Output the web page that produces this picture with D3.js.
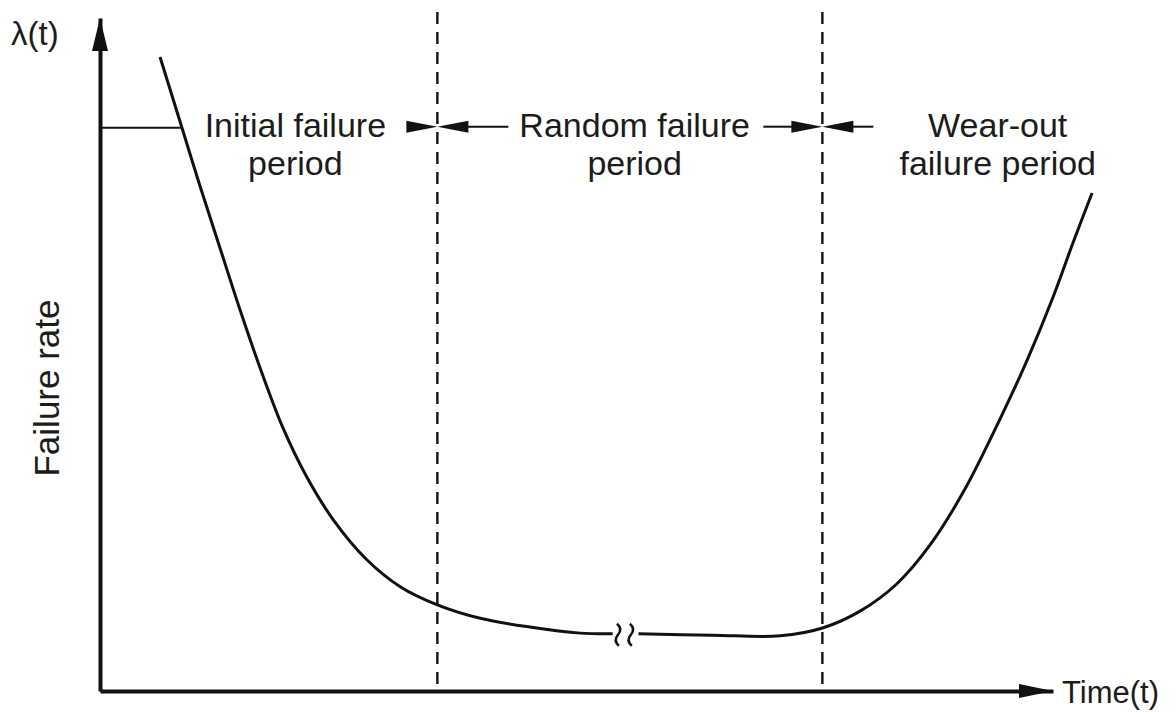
<!DOCTYPE html>
<html>
<head>
<meta charset="utf-8">
<script src="https://cdn.jsdelivr.net/npm/d3@7"></script>
<style>
  html, body { margin: 0; padding: 0; background: #fff; }
  svg { display: block; font-family: "Liberation Sans", Arial, sans-serif; }
</style>
</head>
<body>
<svg id="canvas" width="1176" height="717"></svg>
<script>
// bathtub curve (time 0..100, rate 0..100)
const EARLY_T = [6.3, 8.6, 10.5, 12.6, 14.7, 16.8, 19.2, 21.7, 24.5, 28.0, 31.5, 35.4, 39.9, 45.1, 50.4, 53.8];
const EARLY_R = [94.2, 83.7, 75.0, 65.8, 56.6, 48.0, 39.1, 31.8, 25.4, 19.5, 15.5, 12.8, 10.8, 9.5, 8.6, 8.5];
const LATE_T = [56.5, 64.3, 71.4, 75.9, 79.8, 83.6, 87.1, 90.6, 94.4, 97.3, 100.0, 102.1, 104.1];
const LATE_R = [8.5, 8.3, 8.2, 9.4, 11.9, 15.9, 21.7, 29.6, 40.3, 49.2, 58.5, 66.6, 74.0];

const BOUNDS = [35.4, 75.8];
const BREAKS = [54.35, 55.7];
const LEVEL = 83.7;
const LEVEL_END = 8.6;

const PERIODS = [["Initial failure", "period"], ["Random failure", "period"], ["Wear-out", "failure period"]];
const PERIOD_AT = [20.5, 56.1, 94.2];

const INK = "#111";

const svg = d3.select("#canvas");

const scaleX = d3.scaleLinear()
    .domain([0, 100])
    .range([100, 1053]);

const scaleY = d3.scaleLinear()
    .domain([0, 100])
    .range([691, 18]);

// axes without ticks, arrow heads added after
const xAxis = svg.append("g")
    .attr("transform", `translate(0,${scaleY(0)})`)
    .call(d3.axisBottom(scaleX).tickValues([]).tickSizeOuter(0));

const yAxis = svg.append("g")
    .attr("transform", `translate(${scaleX(0)},0)`)
    .call(d3.axisLeft(scaleY).tickValues([]).tickSizeOuter(0));

[xAxis, yAxis].forEach(a => a.select(".domain")
    .attr("stroke", INK)
    .attr("stroke-width", 4));

const x0 = scaleX(0), y0 = scaleY(0);
const xEnd = scaleX(100), yEnd = scaleY(100);

svg.append("path")
    .attr("d", `M${xEnd},${y0} L${xEnd - 34},${y0 - 7} L${xEnd - 34},${y0 + 7} Z`)
    .attr("fill", INK);

svg.append("path")
    .attr("d", `M${x0},${yEnd} L${x0 - 8},${yEnd + 33} L${x0 + 8},${yEnd + 33} Z`)
    .attr("fill", INK);

// period boundaries
svg.selectAll(".bound")
    .data(BOUNDS)
    .enter()
    .append("line")
    .attr("class", "bound")
    .attr("x1", d => scaleX(d))
    .attr("x2", d => scaleX(d))
    .attr("y1", 12)
    .attr("y2", y0)
    .attr("stroke", INK)
    .attr("stroke-width", 2.4)
    .attr("stroke-dasharray", "12,8");

// initial level marker
svg.append("line")
    .attr("x1", x0)
    .attr("x2", scaleX(LEVEL_END))
    .attr("y1", scaleY(LEVEL))
    .attr("y2", scaleY(LEVEL))
    .attr("stroke", INK)
    .attr("stroke-width", 2);

// the curve, broken in the random period
const line = d3.line()
    .x(d => scaleX(d[0]))
    .y(d => scaleY(d[1]))
    .curve(d3.curveCatmullRom.alpha(0.5));

[d3.zip(EARLY_T, EARLY_R), d3.zip(LATE_T, LATE_R)].forEach(seg => {
    svg.append("path")
        .attr("d", line(seg))
        .attr("fill", "none")
        .attr("stroke", INK)
        .attr("stroke-width", 3);
});

const breakY = scaleY(EARLY_R[EARLY_R.length - 1]) + 1;
svg.selectAll(".brk")
    .data(BREAKS)
    .enter()
    .append("path")
    .attr("class", "brk")
    .attr("transform", d => `translate(${scaleX(d)},${breakY})`)
    .attr("d", "M-1,-11 Q5,-6 0,0 Q-5,6 1,11")
    .attr("fill", "none")
    .attr("stroke", INK)
    .attr("stroke-width", 2.5);

// dimension arrows between the labels
const arrowY = scaleY(LEVEL) - 1;

function arrowHead(tipX, dir) {
    svg.append("path")
        .attr("d", `M${tipX},${arrowY} L${tipX - dir * 31},${arrowY - 6} L${tipX - dir * 31},${arrowY + 6} Z`)
        .attr("fill", INK);
}

function stem(xa, xb) {
    svg.append("line")
        .attr("x1", xa).attr("x2", xb)
        .attr("y1", arrowY).attr("y2", arrowY)
        .attr("stroke", INK)
        .attr("stroke-width", 2);
}

const b1 = scaleX(BOUNDS[0]), b2 = scaleX(BOUNDS[1]);
arrowHead(b1, 1);
arrowHead(b1, -1);
stem(b1 + 30, b1 + 71);
arrowHead(b2, 1);
stem(b2 - 59, b2 - 30);
arrowHead(b2, -1);
stem(b2 + 30, b2 + 51);

// period labels
const labels = svg.selectAll(".period")
    .data(PERIODS)
    .enter()
    .append("text")
    .attr("class", "period")
    .attr("text-anchor", "middle")
    .attr("font-size", 34)
    .attr("fill", "#1c1c1c");

labels.selectAll("tspan")
    .data((d, i) => d.map(s => [s, PERIOD_AT[i]]))
    .enter()
    .append("tspan")
    .attr("x", d => scaleX(d[1]))
    .attr("y", (d, j) => 137 + j * 38)
    .text(d => d[0]);

// axis titles
svg.append("text")
    .attr("x", 11)
    .attr("y", 45)
    .attr("font-size", 33)
    .attr("fill", "#1c1c1c")
    .text("λ(t)");

svg.append("text")
    .attr("x", xEnd + 9)
    .attr("y", 703)
    .attr("font-size", 31)
    .attr("fill", "#1c1c1c")
    .text("Time(t)");

svg.append("text")
    .attr("transform", "translate(59,388) rotate(-90)")
    .attr("text-anchor", "middle")
    .attr("font-size", 35)
    .attr("fill", "#1c1c1c")
    .text("Failure rate");
</script>
</body>
</html>
